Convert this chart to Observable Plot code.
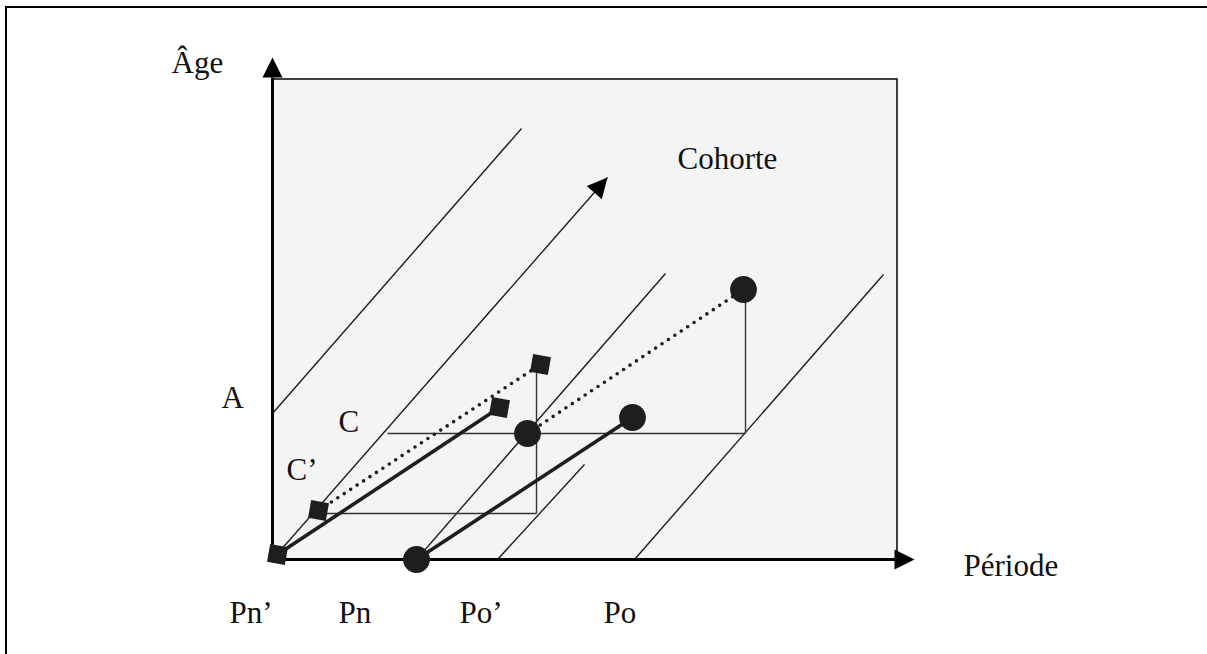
<!DOCTYPE html>
<html>
<head>
<meta charset="utf-8">
<script src="https://cdn.jsdelivr.net/npm/d3@7"></script>
<script src="https://cdn.jsdelivr.net/npm/@observablehq/plot@0.6"></script>
<style>
  html, body { margin: 0; padding: 0; background: #fff; }
  svg { display: block; }
</style>
</head>
<body>
<div id="chart"></div>
<script>
// ---- Lexis diagram values (period on x, age on y, origin at Pn') ----
const panelBox = [{x1: 0, x2: 625, y1: 0, y2: 480}];
const axisEnds = {period: 642, age: 502};           // arrow tips of the two axes
const axisLineEnds = {period: 625, age: 482};

// thin cohort (life) lines
const cohortLines = [
  {x1: 0,   y1: 146, x2: 249, y2: 431},
  {x1: 144, y1: 0,   x2: 393, y2: 286},
  {x1: 225, y1: 0,   x2: 312, y2: 95},
  {x1: 362, y1: 0,   x2: 611, y2: 285}
];
// the arrowed cohort line
const cohortArrow = {x1: 0, y1: 0, x2: 335, y2: 382};

// thin construction lines (horizontal / vertical)
const guideLines = [
  {x1: 115, y1: 126, x2: 473, y2: 126},
  {x1: 473, y1: 126, x2: 473, y2: 270},
  {x1: 46,  y1: 46,  x2: 264, y2: 46},
  {x1: 264, y1: 46,  x2: 264, y2: 190}
];

// thick solid lines
const solidLines = [
  {x1: 5,   y1: 5, x2: 227, y2: 152},
  {x1: 144, y1: 0, x2: 360, y2: 142}
];
// dotted lines
const dottedLines = [
  {x1: 46,  y1: 49,  x2: 268, y2: 195},
  {x1: 255, y1: 126, x2: 471, y2: 270}
];

// markers
const squarePoints = [
  {x: 5, y: 5}, {x: 46, y: 49}, {x: 227, y: 152}, {x: 268, y: 195}
];
const circlePoints = [
  {x: 144, y: 0}, {x: 255, y: 126}, {x: 360, y: 142}, {x: 471, y: 270}
];

// labels
const labelTexts = ["Âge", "A", "C", "C’", "Pn’", "Pn", "Po’", "Po", "Cohorte", "Période"];
const labelX =     [-101,  -51,  66,   14,   -43,   66,   187,   331,  405,       691];
const labelY =     [487,    152, 128,  80,   -63,   -63,  -63,   -63,  391,       -16];
const labels = labelTexts.map((t, i) => ({text: t, x: labelX[i], y: labelY[i]}));

// outer frame
const frameBox = [{x1: -266, x2: 960, y1: -130, y2: 552}];

// filled arrowhead symbol, tip at the anchor point, pointing up
const arrowHead = {
  draw(context, size) {
    const r = Math.sqrt(size / Math.PI);
    context.moveTo(0, 0);
    context.lineTo(r, 2 * r);
    context.lineTo(-r, 2 * r);
    context.closePath();
  }
};

const arrowAngle = Math.atan2(cohortArrow.x2 - cohortArrow.x1, cohortArrow.y2 - cohortArrow.y1) * 180 / Math.PI;
const arrowTips = [
  {x: 0, y: axisEnds.age, rot: 0},
  {x: axisEnds.period, y: 0, rot: 90},
  {x: cohortArrow.x2, y: cohortArrow.y2, rot: arrowAngle}
];

const ink = "#1e1e1e";

const chart = Plot.plot({
  width: 1207,
  height: 654,
  margin: 0,
  x: {domain: [-272, 935], axis: null},
  y: {domain: [-95, 559], axis: null},
  style: {background: "#fff", fontFamily: "'Liberation Serif', 'Times New Roman', serif"},
  marks: [
    Plot.rect(frameBox, {x1: "x1", x2: "x2", y1: "y1", y2: "y2", fill: "none", stroke: "#000", strokeWidth: 2}),
    Plot.rect(panelBox, {x1: "x1", x2: "x2", y1: "y1", y2: "y2", fill: "#f4f4f4", stroke: "#111", strokeWidth: 1.6}),
    Plot.link(cohortLines, {x1: "x1", y1: "y1", x2: "x2", y2: "y2", stroke: ink, strokeWidth: 1.4}),
    Plot.link([cohortArrow], {x1: "x1", y1: "y1", x2: "x2", y2: "y2", stroke: ink, strokeWidth: 1.4}),
    Plot.link(guideLines, {x1: "x1", y1: "y1", x2: "x2", y2: "y2", stroke: "#333", strokeWidth: 1.4}),
    Plot.link(dottedLines, {x1: "x1", y1: "y1", x2: "x2", y2: "y2", stroke: ink, strokeWidth: 3.6, strokeDasharray: "0 7.7", strokeLinecap: "round"}),
    Plot.link(solidLines, {x1: "x1", y1: "y1", x2: "x2", y2: "y2", stroke: ink, strokeWidth: 3.6}),
    // axes
    Plot.link([{x1: 0, y1: -1.5, x2: 0, y2: axisLineEnds.age}], {x1: "x1", y1: "y1", x2: "x2", y2: "y2", stroke: "#000", strokeWidth: 3}),
    Plot.link([{x1: 0, y1: 0, x2: axisLineEnds.period, y2: 0}], {x1: "x1", y1: "y1", x2: "x2", y2: "y2", stroke: "#000", strokeWidth: 3}),
    Plot.dot(arrowTips, {x: "x", y: "y", rotate: "rot", symbol: arrowHead, r: 10, fill: "#000", stroke: "none"}),
    // markers
    Plot.dot(squarePoints, {x: "x", y: "y", symbol: "square", r: 10.2, rotate: 10, fill: ink, stroke: "none"}),
    Plot.dot(circlePoints, {x: "x", y: "y", symbol: "circle", r: 13.4, fill: ink, stroke: "none"}),
    // labels
    Plot.text(labels, {x: "x", y: "y", text: "text", textAnchor: "start", lineAnchor: "bottom", fontSize: 31, fill: "#111"})
  ]
});

document.getElementById("chart").appendChild(chart);
</script>
</body>
</html>
